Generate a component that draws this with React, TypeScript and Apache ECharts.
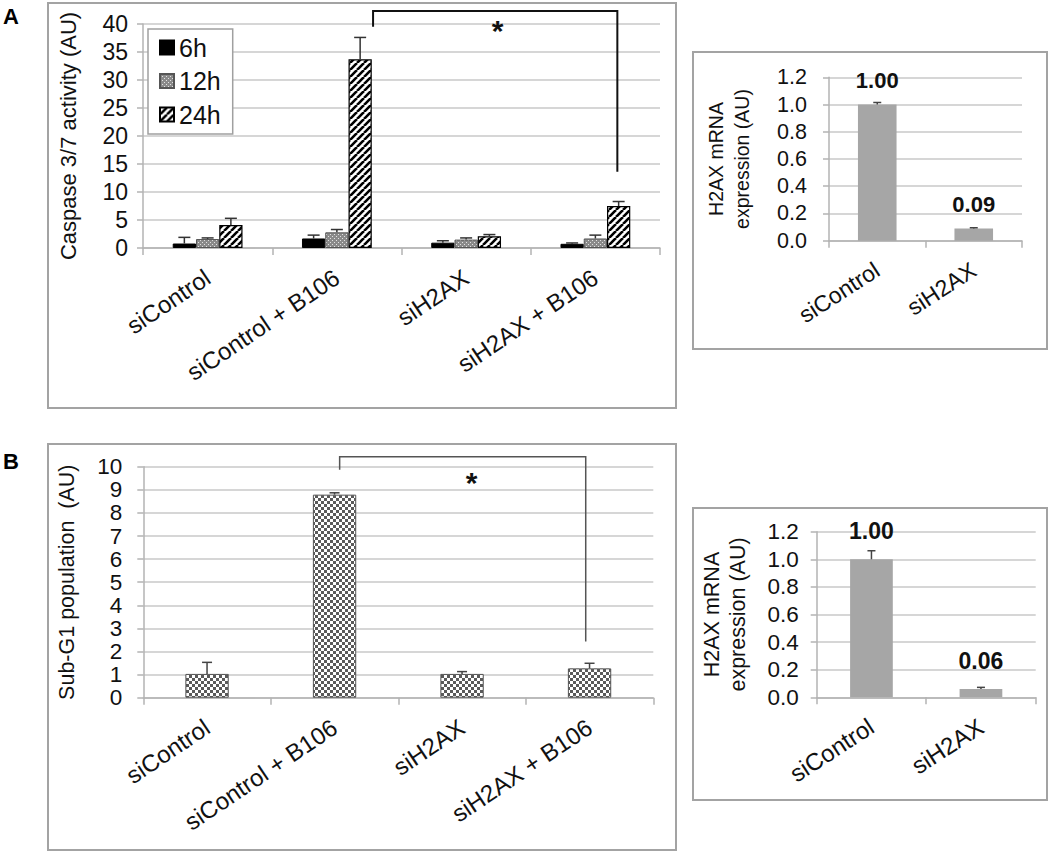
import React, { useEffect, useRef } from "react";
import * as echarts from "echarts";

const FONT = "'Liberation Sans', Arial, Helvetica, sans-serif";

// ---------- data ----------
const groupCategories = ["siControl", "siControl + B106", "siH2AX", "siH2AX + B106"];
const timeSeriesNames = ["6h", "12h", "24h"];
const caspase6h = [0.8, 1.7, 0.95, 0.75];
const caspase6hErr = [1.1, 0.6, 0.35, 0.15];
const caspase12h = [1.6, 2.8, 1.5, 1.7];
const caspase12hErr = [0.2, 0.5, 0.3, 0.6];
const caspase24h = [4.1, 33.7, 2.1, 7.5];
const caspase24hErr = [1.2, 3.9, 0.3, 0.8];

const subG1 = [1.03, 8.79, 1.03, 1.27];
const subG1Err = [0.5, 0.08, 0.1, 0.22];

const mrnaCategories = ["siControl", "siH2AX"];
const mrnaA = [1.0, 0.09];
const mrnaAErr = [0.015, 0.005];
const mrnaB = [1.0, 0.06];
const mrnaBErr = [0.062, 0.012];

// significance brackets (value space of each chart)
const sigA = { fromCat: 1, fromShift: 0.28, toCat: 3, toShift: 0.17, level: 42.3, fromEnd: 39.5, toEnd: 13.6, starLevel: 39.7, starFrac: 0.51 };
const sigB = { fromCat: 1, fromShift: 0.04, toCat: 3, toShift: -0.03, level: 10.43, fromEnd: 9.87, toEnd: 2.43, starLevel: 9.5, starFrac: 0.536 };

// ---------- helpers ----------
function canvasPattern(size: number, draw: (ctx: CanvasRenderingContext2D, s: number) => void) {
  const c = document.createElement("canvas");
  c.width = size;
  c.height = size;
  const ctx = c.getContext("2d") as CanvasRenderingContext2D;
  draw(ctx, size);
  return { image: c.toDataURL(), repeat: "repeat", imageWidth: size, imageHeight: size } as any;
}

function errorSeries(gridIdx: number, values: number[], errs: number[], shiftFrac: number, capHalf: number, color: string, lw: number) {
  return {
    type: "custom",
    xAxisIndex: gridIdx,
    yAxisIndex: gridIdx,
    z: 5,
    silent: true,
    clip: false,
    data: values.map((v, i) => [i, v, errs[i]]),
    encode: { x: 0, y: 1 },
    renderItem: (_params: any, api: any) => {
      const c = api.value(0);
      const v = api.value(1);
      const e = api.value(2);
      const p0 = api.coord([c, v]);
      const p1 = api.coord([c, v + e]);
      const bw = api.size([1, 0])[0];
      const x = p0[0] + shiftFrac * bw;
      const st = { stroke: color, lineWidth: lw };
      return {
        type: "group",
        children: [
          { type: "line", shape: { x1: x, y1: p0[1], x2: x, y2: p1[1] }, style: st },
          { type: "line", shape: { x1: x - capHalf, y1: p1[1], x2: x + capHalf, y2: p1[1] }, style: st },
        ],
      };
    },
  };
}

function bracketSeries(gridIdx: number, sig: any, color: string, lw: number, starSize: number) {
  return {
    type: "custom",
    xAxisIndex: gridIdx,
    yAxisIndex: gridIdx,
    z: 6,
    silent: true,
    clip: false,
    data: [[sig.fromCat, 0]],
    encode: { x: 0, y: 1 },
    renderItem: (_params: any, api: any) => {
      const bw = api.size([1, 0])[0];
      const a = api.coord([sig.fromCat, sig.level]);
      const b = api.coord([sig.toCat, sig.level]);
      const x1 = a[0] + sig.fromShift * bw;
      const x2 = b[0] + sig.toShift * bw;
      const yTop = a[1];
      const yA = api.coord([sig.fromCat, sig.fromEnd])[1];
      const yB = api.coord([sig.toCat, sig.toEnd])[1];
      const yStar = api.coord([sig.fromCat, sig.starLevel])[1];
      return {
        type: "group",
        children: [
          {
            type: "polyline",
            shape: { points: [[x1, yA], [x1, yTop], [x2, yTop], [x2, yB]] },
            style: { stroke: color, lineWidth: lw, fill: "none" },
          },
          {
            type: "text",
            x: x1 + (x2 - x1) * sig.starFrac,
            y: yStar + starSize * 0.15,
            style: {
              text: "*",
              fontSize: starSize,
              fontWeight: "bold",
              fontFamily: FONT,
              fill: "#111",
              align: "center",
              verticalAlign: "middle",
            },
          },
        ],
      };
    },
  };
}

const AXIS_GRAY = "#b3b3b3";
const GRID_GRAY = "#d6d6d6";

function catAxis(gridIdx: number, data: string[], fontSize: number, margin: number, rotate: number) {
  return {
    type: "category",
    gridIndex: gridIdx,
    data,
    axisLine: { show: true, lineStyle: { color: AXIS_GRAY, width: 1.5 } },
    axisTick: { show: true, length: 7, lineStyle: { color: AXIS_GRAY, width: 1.5 } },
    axisLabel: { rotate, margin, fontSize, color: "#111", fontFamily: FONT, interval: 0 },
    splitLine: { show: false },
  };
}

function valAxis(gridIdx: number, max: number, interval: number, fontSize: number, margin: number, name: string, nameGap: number, nameSize: number, decimals: number, lineHeight?: number) {
  return {
    type: "value",
    gridIndex: gridIdx,
    min: 0,
    max,
    interval,
    axisLine: { show: true, lineStyle: { color: AXIS_GRAY, width: 1.5 } },
    axisTick: { show: true, length: 6, lineStyle: { color: AXIS_GRAY, width: 1.5 } },
    splitLine: { show: true, lineStyle: { color: GRID_GRAY, width: 2 } },
    axisLabel: {
      fontSize,
      margin,
      color: "#111",
      fontFamily: FONT,
      hideOverlap: false,
      formatter: (v: number) => v.toFixed(decimals),
    },
    name,
    nameLocation: "middle",
    nameGap,
    nameTextStyle: { fontSize: nameSize, color: "#111", fontFamily: FONT, lineHeight: lineHeight || nameSize * 1.2 },
  };
}

export default function App() {
  const ref = useRef<HTMLDivElement>(null);

  useEffect(() => {
    if (!ref.current) return;
    const chart = echarts.init(ref.current, undefined, { renderer: "svg" });

    const dots12 = canvasPattern(4, (ctx, s) => {
      ctx.fillStyle = "#8a8a8a";
      ctx.fillRect(0, 0, s, s);
      ctx.fillStyle = "#e2e2e2";
      ctx.fillRect(0, 0, 1, 1);
      ctx.fillRect(2, 2, 1, 1);
    });
    const stripes24 = canvasPattern(7, (ctx, s) => {
      ctx.fillStyle = "#ffffff";
      ctx.fillRect(0, 0, s, s);
      ctx.strokeStyle = "#000000";
      ctx.lineWidth = 2.6;
      ctx.beginPath();
      for (let k = -1; k <= 1; k++) {
        ctx.moveTo(k * s, s);
        ctx.lineTo(k * s + s, 0);
      }
      ctx.stroke();
    });
    const checker = canvasPattern(6, (ctx, s) => {
      ctx.fillStyle = "#ffffff";
      ctx.fillRect(0, 0, s, s);
      ctx.fillStyle = "#5a5a5a";
      ctx.fillRect(0, 0, 3, 3);
      ctx.fillRect(3, 3, 3, 3);
    });

    const boxStyle = { fill: "none", stroke: "#a3a3a3", lineWidth: 2 };

    const option: any = {
      animation: false,
      textStyle: { fontFamily: FONT },
      grid: [
        { left: 143, top: 24, width: 517, height: 224, outerBoundsMode: "none" },
        { left: 829, top: 77.3, width: 193, height: 163.4, outerBoundsMode: "none" },
        { left: 143.3, top: 466.7, width: 510, height: 231, outerBoundsMode: "none" },
        { left: 816.7, top: 531.7, width: 219, height: 165.6, outerBoundsMode: "none" },
      ],
      xAxis: [
        catAxis(0, groupCategories, 24, 27, 34),
        catAxis(1, mrnaCategories, 23, 27, 33),
        catAxis(2, groupCategories, 24, 27, 34),
        catAxis(3, mrnaCategories, 24, 27, 33),
      ],
      yAxis: [
        valAxis(0, 40, 5, 23, 15, "Caspase 3/7 activity (AU)", 61, 22, 0),
        valAxis(1, 1.2, 0.2, 21.5, 22, "H2AX mRNA\nexpression (AU)", 74, 19.5, 1, 26),
        valAxis(2, 10, 1, 22.5, 21, "Sub-G1 population  (AU)", 63, 21.5, 0),
        valAxis(3, 1.2, 0.2, 22.5, 18, "H2AX mRNA\nexpression (AU)", 66, 21.5, 1, 26),
      ],
      legend: {
        data: timeSeriesNames,
        orient: "vertical",
        left: 148,
        top: 29,
        padding: [6, 12, 7, 11],
        itemWidth: 14,
        itemHeight: 14,
        itemGap: 8.5,
        icon: "rect",
        borderColor: "#a0a0a0",
        borderWidth: 1.5,
        backgroundColor: "#ffffff",
        textStyle: { fontSize: 25, color: "#111", fontFamily: FONT, lineHeight: 24 },
      },
      graphic: [
        { type: "rect", shape: { x: 48, y: 3, width: 628, height: 405 }, style: boxStyle, silent: true },
        { type: "rect", shape: { x: 693, y: 52, width: 354, height: 297 }, style: boxStyle, silent: true },
        { type: "rect", shape: { x: 48, y: 444, width: 628, height: 406 }, style: boxStyle, silent: true },
        { type: "rect", shape: { x: 693, y: 508, width: 354, height: 292 }, style: boxStyle, silent: true },
        { type: "text", x: 3, y: 5, style: { text: "A", fontSize: 22, fontWeight: "bold", fontFamily: FONT, fill: "#000" } },
        { type: "text", x: 3, y: 450, style: { text: "B", fontSize: 22, fontWeight: "bold", fontFamily: FONT, fill: "#000" } },
      ],
      series: [
        {
          type: "bar", name: timeSeriesNames[0], xAxisIndex: 0, yAxisIndex: 0, data: caspase6h,
          barWidth: "18%", barGap: "0%",
          itemStyle: { color: "#000000", borderColor: "#000000", borderWidth: 1 },
        },
        {
          type: "bar", name: timeSeriesNames[1], xAxisIndex: 0, yAxisIndex: 0, data: caspase12h,
          barWidth: "18%", barGap: "0%",
          itemStyle: { color: dots12, borderColor: "#555555", borderWidth: 1 },
        },
        {
          type: "bar", name: timeSeriesNames[2], xAxisIndex: 0, yAxisIndex: 0, data: caspase24h,
          barWidth: "18%", barGap: "0%",
          itemStyle: { color: stripes24, borderColor: "#000000", borderWidth: 1.2 },
        },
        errorSeries(0, caspase6h, caspase6hErr, -0.18, 6, "#333", 1.5),
        errorSeries(0, caspase12h, caspase12hErr, 0, 6, "#333", 1.5),
        errorSeries(0, caspase24h, caspase24hErr, 0.18, 6, "#333", 1.5),
        bracketSeries(0, sigA, "#111", 2, 30),

        {
          type: "bar", xAxisIndex: 1, yAxisIndex: 1, data: mrnaA, barWidth: "40%",
          itemStyle: { color: "#a6a6a6" },
          label: {
            show: true, position: "top", distance: 13, fontSize: 22, fontWeight: "bold", color: "#111", fontFamily: FONT,
            formatter: (p: any) => Number(p.value).toFixed(2),
          },
        },
        errorSeries(1, mrnaA, mrnaAErr, 0, 4, "#444", 1.5),

        {
          type: "bar", xAxisIndex: 2, yAxisIndex: 2, data: subG1, barWidth: "34%",
          itemStyle: { color: checker, borderColor: "#555555", borderWidth: 1 },
        },
        errorSeries(2, subG1, subG1Err, 0, 5, "#444", 1.5),
        bracketSeries(2, sigB, "#555", 1.5, 30),

        {
          type: "bar", xAxisIndex: 3, yAxisIndex: 3, data: mrnaB, barWidth: "39%",
          itemStyle: { color: "#a6a6a6" },
          label: {
            show: true, position: "top", distance: 17, fontSize: 23, fontWeight: "bold", color: "#111", fontFamily: FONT,
            formatter: (p: any) => Number(p.value).toFixed(2),
          },
        },
        errorSeries(3, mrnaB, mrnaBErr, 0, 4, "#444", 1.5),
      ],
    };

    chart.setOption(option);
    return () => {
      chart.dispose();
    };
  }, []);

  return (
    <div
      ref={ref}
      style={{ position: "absolute", left: 0, top: 0, width: 1050, height: 851, background: "#ffffff" }}
    />
  );
}
